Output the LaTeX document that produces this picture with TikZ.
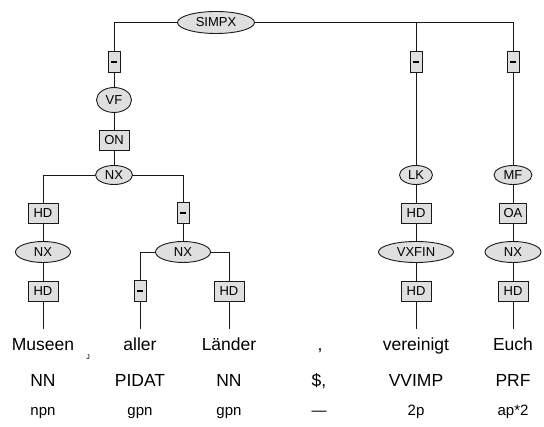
\documentclass[tikz,border=0pt]{standalone}
\usepackage{fontspec}
\setmainfont{Liberation Sans}
\usetikzlibrary{shapes.geometric}
\tikzset{
  cat/.style={ellipse, draw=black!90, fill=gray!25, line width=0.9pt,
    minimum height=19pt, inner sep=1pt, font=\fontsize{13}{13}\selectfont},
  edgelab/.style={rectangle, draw=black!90, fill=gray!25, line width=0.9pt,
    minimum width=30pt, minimum height=20pt, inner sep=1pt,
    font=\fontsize{13}{13}\selectfont},
  nolab/.style={edgelab, minimum width=12pt, minimum height=21pt},
  word/.style={anchor=base, text height=12pt, inner ysep=10pt,
    font=\fontsize{17.5}{17.5}\selectfont},
  postag/.style={anchor=base, font=\fontsize{17.5}{17.5}\selectfont},
  morph/.style={anchor=base, font=\fontsize{15}{15}\selectfont},
  branch/.style={line width=0.9pt, black!90}
}
\newcommand{\nolabel}{\rule{6pt}{1.8pt}}
\begin{document}
\begin{tikzpicture}[x=1pt, y=-1pt]
          \def\wy{351}
          \def\ty{387}
          \def\my{416}
          \useasboundingbox (0,0) rectangle (544,427);
          \node[cat, minimum width=77pt, minimum height=22pt] (simpx) at (216,22.5) {SIMPX};
          \node[nolab] (e1) at (114,62) {\nolabel};
          \node[cat, minimum width=35pt, minimum height=25pt] (vf) at (114,100) {VF};
          \node[edgelab] (on) at (114,140) {ON};
          \node[cat, minimum width=37pt] (nx1) at (114,175) {NX};
          \node[edgelab] (hd1) at (43,213) {HD};
          \node[cat, minimum width=55pt, minimum height=21pt] (nx2) at (43,252) {NX};
          \node[edgelab] (hd2) at (43,291) {HD};
          \node[nolab] (e2) at (183,213) {\nolabel};
          \node[cat, minimum width=55pt, minimum height=21pt] (nx3) at (183,252) {NX};
          \node[nolab] (e3) at (140,291) {\nolabel};
          \node[edgelab] (hd3) at (229,291) {HD};
          \node[nolab] (e4) at (416,62) {\nolabel};
          \node[cat, minimum width=33pt] (lk) at (416,175) {LK};
          \node[edgelab] (hd4) at (416,213) {HD};
          \node[cat, minimum width=75pt, minimum height=21pt] (vxfin) at (416,252) {VXFIN};
          \node[edgelab] (hd5) at (416,291) {HD};
          \node[nolab] (e5) at (513,62) {\nolabel};
          \node[cat, minimum width=38pt] (mf) at (513,175) {MF};
          \node[edgelab, minimum width=27pt] (oa) at (513,213) {OA};
          \node[cat, minimum width=56pt, minimum height=21pt] (nx4) at (513,252) {NX};
          \node[edgelab] (hd6) at (513,291) {HD};
          \node[word] (museen) at (43,\wy) {Museen};
          \node[word] (aller) at (140,\wy) {aller};
          \node[word] (laender) at (229,\wy) {Länder};
          \node[word] (comma) at (320,\wy) {,};
          \node[word] (vereinigt) at (416,\wy) {vereinigt};
          \node[word] (euch) at (513,\wy) {Euch};
          \node[font=\fontsize{7}{7}\selectfont] (mark) at (88,357) {J};
          \node[postag] (t1) at (43,\ty) {NN};
          \node[postag] (t2) at (140,\ty) {PIDAT};
          \node[postag] (t3) at (229,\ty) {NN};
          \node[postag] (t4) at (319,\ty) {\$,};
          \node[postag] (t5) at (416,\ty) {VVIMP};
          \node[postag] (t6) at (513,\ty) {PRF};
          \node[morph] (m1) at (43,\my) {npn};
          \node[morph] (m2) at (140,\my) {gpn};
          \node[morph] (m3) at (229,\my) {gpn};
          \node[morph] (m4) at (319,\my) {—};
          \node[morph] (m5) at (416,\my) {2p};
          \node[morph] (m6) at (513,\my) {ap*2};
          \draw[branch] (simpx.west) -| (e1.north);
          \draw[branch] (simpx.east) -| (e4.north);
          \draw[branch] (simpx.east) -| (e5.north);
          \draw[branch] (e1) -- (vf) -- (on) -- (nx1);
          \draw[branch] (nx1.west) -| (hd1.north);
          \draw[branch] (nx1.east) -| (e2.north);
          \draw[branch] (hd1) -- (nx2) -- (hd2) -- (museen);
          \draw[branch] (e2) -- (nx3);
          \draw[branch] (nx3.west) -| (e3.north);
          \draw[branch] (nx3.east) -| (hd3.north);
          \draw[branch] (e3) -- (aller);
          \draw[branch] (hd3) -- (laender);
          \draw[branch] (e4) -- (lk) -- (hd4) -- (vxfin) -- (hd5) -- (vereinigt);
          \draw[branch] (e5) -- (mf) -- (oa) -- (nx4) -- (hd6) -- (euch);
        \end{tikzpicture}
\end{document}
